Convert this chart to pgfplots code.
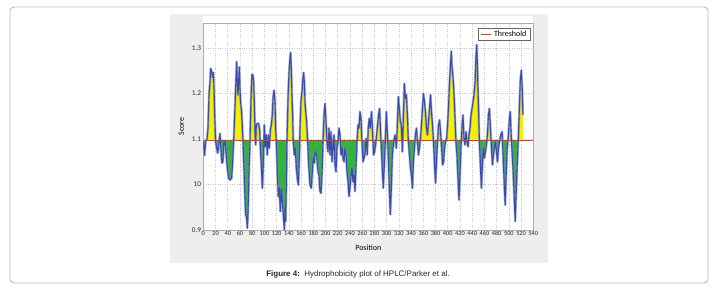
\documentclass[border=0pt]{standalone}
\usepackage{fontspec}
\setmainfont{Carlito}
\newfontfamily\arial{Liberation Sans}
\usepackage{pgfplots}
\usepackage{pgfplotstable}
\pgfplotsset{compat=1.18}
\definecolor{panelgray}{RGB}{238,238,238}
\definecolor{fillyellow}{RGB}{246,240,0}
\definecolor{fillgreen}{RGB}{52,178,62}
\definecolor{curveblue}{RGB}{58,76,168}
\definecolor{haloblue}{RGB}{120,135,205}
\definecolor{thrred}{RGB}{232,52,40}
\pgfplotstableread{
x y
0 1.094
1 1.083
2 1.064
3 1.080
4 1.096
6 1.100
7.6 1.123
9.3 1.196
11 1.226
12 1.255
13.6 1.249
15.3 1.236
16.4 1.246
17.5 1.215
18.5 1.160
20.2 1.094
21.8 1.080
23.5 1.069
25 1.083
27.3 1.112
29 1.072
30.5 1.047
32 1.050
33.8 1.096
35.5 1.094
37 1.072
39.3 1.036
41.5 1.014
43.6 1.010
46.4 1.014
48 1.050
49.6 1.094
51.3 1.153
52.9 1.211
54.6 1.270
55.6 1.226
56.7 1.197
57.8 1.226
58.9 1.258
60 1.211
61 1.182
62.7 1.160
63.8 1.131
65 1.094
66 1.058
67.6 0.992
69.3 0.934
71 0.926
72 0.904
73.1 0.934
74.2 0.992
75.3 1.050
76.4 1.094
78 1.189
79.6 1.242
81.3 1.240
82.4 1.226
83.5 1.182
84.6 1.116
85.7 1.087
86.7 1.131
88.4 1.134
90.6 1.134
92.2 1.120
93.3 1.083
94.9 1.043
96.6 0.992
98.2 1.043
99.8 1.131
101.5 1.083
103.1 1.109
104.7 1.065
106.4 1.109
108 1.080
109.7 1.120
111.3 1.131
112.9 1.153
114 1.189
115.7 1.207
117.3 1.182
118.4 1.124
119.5 1.094
121.1 1.028
122.7 0.974
124.4 0.992
126 0.941
127.7 0.992
129.3 0.963
130.9 0.934
132.6 0.901
133.7 0.948
134.8 0.919
135.8 0.992
136.9 1.094
138.6 1.189
140.2 1.244
141.8 1.277
142.9 1.290
144 1.255
145.1 1.197
146.2 1.153
147.3 1.094
148.9 1.065
150.6 1.080
152.2 1.036
153.8 1.014
155.5 0.999
157.1 1.058
158.2 1.124
159.8 1.182
161.5 1.204
163.1 1.233
164.2 1.246
165.3 1.226
166.4 1.182
168 1.153
169.1 1.138
170.8 1.094
172.4 1.043
174.6 0.999
176.8 0.992
178.4 1.028
180 1.058
181.7 1.047
183.3 1.072
185.5 1.065
187.7 1.028
189.3 1.021
190.9 0.985
192.6 0.981
194.2 1.021
195.9 1.094
197.5 1.153
199.1 1.178
200.8 1.138
202.4 1.094
204 1.072
205.7 1.124
207.3 1.065
208.9 1.116
210.6 1.050
212.2 1.080
213.9 1.109
215.5 1.043
217.1 1.028
218.8 1.080
220.4 1.094
222 1.124
223.7 1.109
225.3 1.065
226.9 1.080
228.6 1.058
230.2 1.050
231.9 1.080
233.5 1.065
235.1 1.028
236.8 1.006
238.4 0.974
240 0.992
241.7 1.021
243.3 1.036
245 1.006
246.6 1.021
248.2 0.985
249.9 1.043
251.5 1.094
253.1 1.131
254.8 1.124
256.4 1.160
258 1.145
259.7 1.094
261.3 1.050
264.4 1.065
266.6 1.101
268.2 1.065
269.9 1.124
271.5 1.145
273.2 1.124
275.3 1.160
277 1.116
278.6 1.065
280.3 1.072
281.9 1.087
283.6 1.109
285.2 1.131
286.8 1.153
288.5 1.167
290.1 1.116
291.8 1.065
293.4 1.021
294.5 0.992
296.2 1.043
297.8 1.094
299.5 1.160
301.1 1.116
302.7 1.065
304.4 0.992
306 0.934
307.7 0.992
309.3 1.065
311.5 1.094
313.7 1.109
315.9 1.080
317.5 1.131
319.2 1.193
320.8 1.167
322.5 1.138
324.1 1.131
325.8 1.072
327.4 1.153
329 1.222
330.7 1.189
332.3 1.197
334 1.153
335.6 1.094
337.3 1.065
338.9 1.036
340.5 1.021
342.2 0.992
343.8 1.050
345.5 1.080
347.1 1.109
348.8 1.124
350.4 1.094
352.1 1.065
353.7 1.080
355.3 1.101
357 1.131
358.6 1.167
360.3 1.200
361.9 1.182
363.6 1.160
365.2 1.124
366.8 1.109
368.5 1.138
370.1 1.167
371.8 1.197
373.4 1.160
375.1 1.131
376.7 1.094
378.4 1.043
380 1.003
381.6 1.050
383.3 1.094
384.9 1.131
386.6 1.142
388.2 1.116
389.9 1.080
391.5 1.043
393.2 1.050
394.8 1.080
396.4 1.094
398.1 1.101
399.7 1.131
401.4 1.175
403 1.226
404.7 1.269
405.8 1.293
406.8 1.262
408.5 1.240
410.1 1.204
411.8 1.153
413.4 1.094
415.1 1.065
416.7 1.014
418.4 0.966
420 1.021
421.6 1.080
423.3 1.124
424.9 1.153
426.6 1.101
428.2 1.087
429.9 1.116
431.5 1.094
433.2 1.083
434.8 1.109
436.4 1.124
438.1 1.153
439.7 1.167
441.4 1.182
443 1.197
444.7 1.226
446.3 1.284
447.4 1.307
448.5 1.262
449.6 1.204
450.7 1.153
451.8 1.094
453.4 1.043
455.1 0.992
456.7 1.043
458.4 1.080
460 1.058
461.6 1.072
463.3 1.087
464.9 1.109
466.6 1.153
468.2 1.167
469.9 1.124
471.5 1.080
473.2 1.043
474.8 1.065
476.4 1.080
478.1 1.094
479.7 1.072
481.4 1.050
483 1.080
484.7 1.094
486.8 1.109
489 1.116
490.7 1.058
492.3 1.006
494 0.955
495.6 1.021
497.3 1.080
498.9 1.101
500.5 1.138
502.2 1.160
503.8 1.109
505.5 1.065
507.1 1.028
508.8 0.970
510.4 0.919
512.1 0.985
513.7 1.043
515.3 1.094
517 1.160
518.6 1.226
520.3 1.251
521.9 1.211
523 1.153
}\hydro
\begin{document}
\begin{tikzpicture}[x=1bp,y=1bp]
\path (0,0) rectangle (717,293);
\draw[gray!55, line width=0.9bp, rounded corners=4bp] (10,10) rectangle (708,286);
\fill[panelgray] (170,30) rectangle (548,279);
\fill[white] (203.3,63) rectangle (533.3,277);
\begin{axis}[
  at={(203.3bp,63bp)}, anchor=south west,
  width=330bp, height=207bp, scale only axis,
  xmin=0, xmax=540, ymin=0.9, ymax=1.355,
  xtick={0,20,...,540},
  ytick={0.9,1.0,1.1,1.2,1.3},
  yticklabels={0.9,10,1.1,1.2,1.3},
  /pgf/number format/assume math mode=true,
  xticklabel style={font=\fontsize{6.3}{7}\selectfont, text=black!85, inner sep=1.5bp},
  yticklabel style={font=\fontsize{7.3}{8}\selectfont, text=black!85, inner sep=2bp},
  major tick length=0pt,
  grid=major,
  grid style={dotted, gray!45, line width=0.5bp},
  axis line style={gray!65, line width=0.9bp},
  axis background/.style={fill=white},
  xlabel={Position}, ylabel={Score},
  xlabel style={font=\fontsize{8}{9}\selectfont, at={(axis description cs:0.5,0)}, anchor=center, yshift=-17.5bp},
  ylabel style={font=\fontsize{8}{9}\selectfont, at={(axis description cs:-0.0667,0.5)}, anchor=center},
  legend style={at={(1,1)}, anchor=north east, xshift=-2.6bp, yshift=-5.3bp,
    draw=black!60, line width=0.8bp, fill=white,
    font=\fontsize{8}{9}\selectfont, inner xsep=2bp, inner ysep=0.5bp},
  legend image code/.code={\draw[#1, line width=1.5bp] (0bp,0bp) -- (10bp,0bp);},
]
\begin{scope}
\clip (axis cs:0,1.097) rectangle (axis cs:540,1.6);
\addplot[fill=fillyellow, draw=none, forget plot] table[x=x,y=y] {\hydro} -- (axis cs:523,1.097) -- (axis cs:0,1.097) -- cycle;
\end{scope}
\begin{scope}
\clip (axis cs:0,0.8) rectangle (axis cs:540,1.097);
\addplot[fill=fillgreen, draw=none, forget plot] table[x=x,y=y] {\hydro} -- (axis cs:523,1.097) -- (axis cs:0,1.097) -- cycle;
\end{scope}
\addplot[haloblue, opacity=0.6, line width=2.4bp, line join=round, forget plot] table[x=x,y=y] {\hydro};
\addplot[curveblue, line width=1.1bp, line join=round, forget plot] table[x=x,y=y] {\hydro};
\addplot[thrred, line width=1.5bp] coordinates {(0,1.097) (540,1.097)};
\addlegendentry{Threshold}
\end{axis}
\node[font=\arial\fontsize{8}{9}\selectfont, text=black!85] at (358,19) {\textbf{Figure 4:}\ \ Hydrophobicity plot of HPLC/Parker et al.};
\end{tikzpicture}
\end{document}
